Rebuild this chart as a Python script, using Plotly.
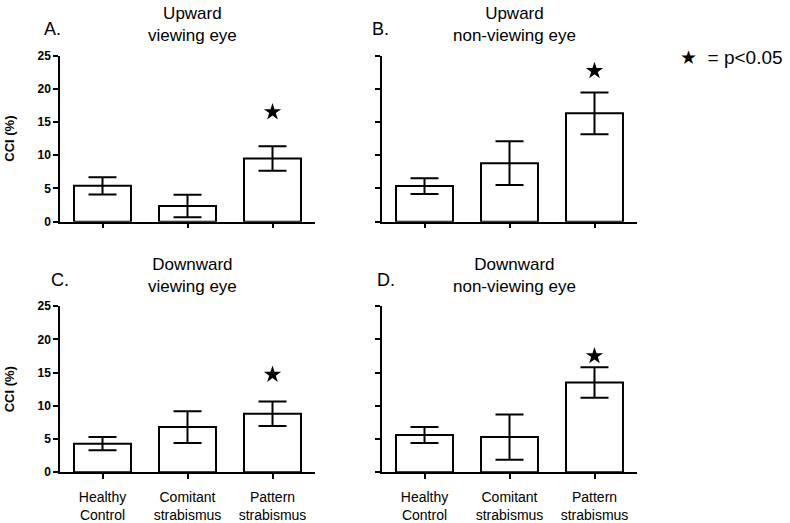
import plotly.graph_objects as go

categories = ["Healthy<br>Control", "Comitant<br>strabismus", "Pattern<br>strabismus"]
cat_idx = [0, 1, 2]

# panel data: means, error (SEM), star position (significance)
up_view_mean = [5.4, 2.35, 9.5]
up_view_err = [1.3, 1.7, 1.85]
up_view_star = [None, None, 16.5]

up_nonview_mean = [5.35, 8.8, 16.3]
up_nonview_err = [1.2, 3.3, 3.15]
up_nonview_star = [None, None, 22.7]

down_view_mean = [4.3, 6.8, 8.8]
down_view_err = [1.0, 2.4, 1.85]
down_view_star = [None, None, 14.7]

down_nonview_mean = [5.6, 5.3, 13.5]
down_nonview_err = [1.2, 3.4, 2.3]
down_nonview_star = [None, None, 17.5]

panel_letters = ["A.", "B.", "C.", "D."]
panel_titles = ["Upward<br>viewing eye", "Upward<br>non-viewing eye",
                "Downward<br>viewing eye", "Downward<br>non-viewing eye"]
y_ticks = [0, 5, 10, 15, 20, 25]

W, H = 790, 523
FONT = "Liberation Sans, Arial, sans-serif"

# pixel layout (left, right, top, bottom)
boxes = [(60, 315, 50, 221), (382, 637, 50, 221),
         (60, 315, 308, 479), (382, 637, 308, 479)]
letter_x = [42, 370, 49, 375]

panels = [
    (up_view_mean, up_view_err, up_view_star),
    (up_nonview_mean, up_nonview_err, up_nonview_star),
    (down_view_mean, down_view_err, down_view_star),
    (down_nonview_mean, down_nonview_err, down_nonview_star),
]

fig = go.Figure()
layout = dict(width=W, height=H, margin=dict(l=0, r=0, t=0, b=0),
              paper_bgcolor="white", plot_bgcolor="white", showlegend=False,
              font=dict(family=FONT, color="black"))
annotations = []

for i, ((means, errs, stars), box) in enumerate(zip(panels, boxes)):
    n = i + 1
    xa = "x" if n == 1 else f"x{n}"
    ya = "y" if n == 1 else f"y{n}"
    fig.add_trace(go.Bar(
        x=cat_idx, y=means, width=0.67,
        marker=dict(color="white", line=dict(color="black", width=2)),
        error_y=dict(type="data", array=errs, visible=True, color="black",
                     thickness=2, width=14),
        xaxis=xa, yaxis=ya, hoverinfo="skip"))
    sx = [c for c, s in zip(cat_idx, stars) if s is not None]
    sy = [s for s in stars if s is not None]
    fig.add_trace(go.Scatter(
        x=sx, y=sy, mode="markers",
        marker=dict(symbol="star", size=13, color="black", line=dict(width=0)),
        xaxis=xa, yaxis=ya, hoverinfo="skip"))
    l, r, t, b = box
    bottom_row = i >= 2
    left_col = i % 2 == 0
    layout["xaxis" if n == 1 else f"xaxis{n}"] = dict(
        domain=[l / W, r / W], range=[-0.5, 2.5], anchor=ya,
        showline=True, linecolor="black", linewidth=1.5,
        ticks="outside", ticklen=5, tickwidth=1.5, tickcolor="black",
        tickvals=cat_idx,
        ticktext=categories if bottom_row else ["", "", ""],
        tickfont=dict(size=14, family=FONT, color="black"),
        ticklabelstandoff=6,
        showgrid=False, zeroline=False, fixedrange=True)
    layout["yaxis" if n == 1 else f"yaxis{n}"] = dict(
        domain=[1 - b / H, 1 - t / H], range=[0, 25], anchor=xa,
        showline=True, linecolor="black", linewidth=1.5,
        ticks="outside", ticklen=5, tickwidth=1.5, tickcolor="black",
        tickvals=y_ticks,
        ticktext=[f"<b>{v}</b>" for v in y_ticks] if left_col else [""] * len(y_ticks),
        tickfont=dict(size=12, family=FONT, color="black"),
        title=dict(text="<b>CCI (%)</b>" if left_col else "",
                   font=dict(size=13, family=FONT, color="black"), standoff=20),
        showgrid=False, zeroline=False, fixedrange=True)
    annotations.append(dict(
        text=panel_titles[i], x=(l + 132) / W, y=1 - (t - 32) / H,
        xref="paper", yref="paper", xanchor="center", yanchor="middle",
        showarrow=False, font=dict(size=17, family=FONT, color="black")))
    annotations.append(dict(
        text=panel_letters[i], x=letter_x[i] / W, y=1 - (t - 27) / H,
        xref="paper", yref="paper", xanchor="left", yanchor="middle",
        showarrow=False, font=dict(size=18, family=FONT, color="black")))

annotations.append(dict(
    text="★  = p<0.05", x=678 / W, y=1 - 52 / H, xref="paper", yref="paper",
    xanchor="left", yanchor="middle", showarrow=False,
    font=dict(size=19, family=FONT, color="black")))

layout["annotations"] = annotations
fig.update_layout(**layout)
fig.write_html("out.html", config={"displayModeBar": False},
               post_script="document.body.style.margin='0';document.body.style.overflow='hidden';")
